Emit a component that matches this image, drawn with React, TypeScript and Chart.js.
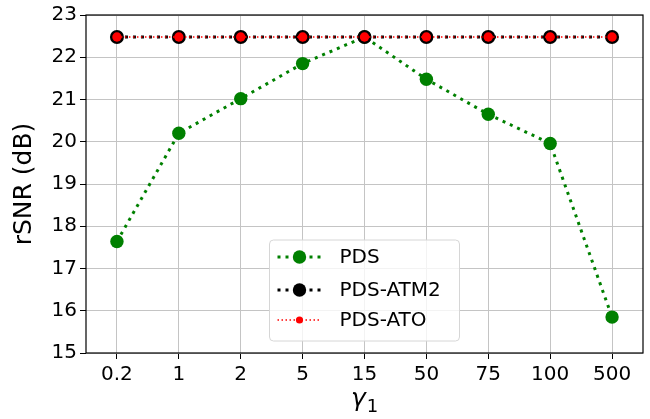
import React, { useEffect, useRef } from "react";
import { Chart, registerables } from "chart.js";

Chart.register(...registerables);

const categories = ["0.2", "1", "2", "5", "15", "50", "75", "100", "500"];
const pdsValues = [17.64, 20.2, 21.02, 21.85, 22.48, 21.48, 20.65, 19.96, 15.85];
const atm2Values = [22.48, 22.48, 22.48, 22.48, 22.48, 22.48, 22.48, 22.48, 22.48];
const atoValues = [22.48, 22.48, 22.48, 22.48, 22.48, 22.48, 22.48, 22.48, 22.48];
const yTicks = [15, 16, 17, 18, 19, 20, 21, 22, 23];
const xTitleMain = "γ";
const xTitleSub = "1";

const FONT = "'DejaVu Sans', sans-serif";

const framePlugin = {
  id: "frame",
  afterDatasetsDraw(chart: any) {
    const { ctx, chartArea } = chart;
    ctx.save();
    ctx.strokeStyle = "#000";
    ctx.lineWidth = 1.2;
    ctx.strokeRect(chartArea.left, chartArea.top, chartArea.right - chartArea.left, chartArea.bottom - chartArea.top);
    ctx.restore();
  },
};

const xTitlePlugin = {
  id: "xTitle",
  afterDraw(chart: any) {
    const { ctx, chartArea } = chart;
    const cx = (chartArea.left + chartArea.right) / 2;
    ctx.save();
    ctx.fillStyle = "#000";
    ctx.textBaseline = "alphabetic";
    ctx.textAlign = "left";
    ctx.font = `italic 25px ${FONT}`;
    const w1 = ctx.measureText(xTitleMain).width;
    ctx.font = `18px ${FONT}`;
    const w2 = ctx.measureText(xTitleSub).width;
    const total = w1 + 1 + w2;
    const x0 = cx - total / 2;
    ctx.font = `italic 25px ${FONT}`;
    ctx.fillText(xTitleMain, x0, chartArea.bottom + 53);
    ctx.font = `18px ${FONT}`;
    ctx.fillText(xTitleSub, x0 + w1 + 1, chartArea.bottom + 59);
    ctx.restore();
  },
};

const legendPlugin = {
  id: "innerLegend",
  afterDraw(chart: any) {
    const { ctx, chartArea } = chart;
    const w = 190;
    const h = 101;
    const cx = (chartArea.left + chartArea.right) / 2;
    const left = cx - w / 2;
    const top = chartArea.bottom - 12 - h;
    ctx.save();
    ctx.beginPath();
    const r = 4;
    ctx.moveTo(left + r, top);
    ctx.lineTo(left + w - r, top);
    ctx.quadraticCurveTo(left + w, top, left + w, top + r);
    ctx.lineTo(left + w, top + h - r);
    ctx.quadraticCurveTo(left + w, top + h, left + w - r, top + h);
    ctx.lineTo(left + r, top + h);
    ctx.quadraticCurveTo(left, top + h, left, top + h - r);
    ctx.lineTo(left, top + r);
    ctx.quadraticCurveTo(left, top, left + r, top);
    ctx.closePath();
    ctx.fillStyle = "rgba(255,255,255,0.8)";
    ctx.fill();
    ctx.strokeStyle = "#d6d6d6";
    ctx.lineWidth = 1;
    ctx.stroke();

    const rows = [17, 50, 80];
    const mRadius = [6.7, 6.7, 3.6];
    chart.data.datasets.forEach((ds: any, i: number) => {
      const y = top + rows[i];
      ctx.save();
      ctx.strokeStyle = ds.borderColor;
      ctx.lineWidth = ds.borderWidth;
      ctx.setLineDash(ds.borderDash);
      ctx.beginPath();
      ctx.moveTo(left + 8, y);
      ctx.lineTo(left + 52, y);
      ctx.stroke();
      ctx.restore();
      ctx.beginPath();
      ctx.arc(left + 30, y, mRadius[i], 0, Math.PI * 2);
      ctx.fillStyle = ds.pointBackgroundColor;
      ctx.fill();
      ctx.fillStyle = "#000";
      ctx.font = `20px ${FONT}`;
      ctx.textBaseline = "middle";
      ctx.textAlign = "left";
      ctx.fillText(ds.label, left + 70, y + 1);
    });
    ctx.restore();
  },
};

export default function App() {
  const ref = useRef<HTMLCanvasElement>(null);
  useEffect(() => {
    document.body.style.margin = "0";
    const chart = new Chart(ref.current!, {
      type: "line",
      data: {
        labels: categories,
        datasets: [
          {
            label: "PDS",
            data: pdsValues,
            borderColor: "#008000",
            backgroundColor: "#008000",
            pointBackgroundColor: "#008000",
            borderWidth: 3,
            borderDash: [3, 5],
            pointRadius: 6.7,
            pointBorderWidth: 0,
            order: 3,
          },
          {
            label: "PDS-ATM2",
            data: atm2Values,
            borderColor: "#000000",
            backgroundColor: "#000000",
            pointBackgroundColor: "#000000",
            borderWidth: 3,
            borderDash: [3, 5],
            pointRadius: 7,
            pointBorderWidth: 0,
            order: 2,
          },
          {
            label: "PDS-ATO",
            data: atoValues,
            borderColor: "#ff0000",
            backgroundColor: "#ff0000",
            pointBackgroundColor: "#ff0000",
            borderWidth: 1.5,
            borderDash: [1.5, 2.5],
            pointRadius: 4.7,
            pointBorderWidth: 0,
            order: 1,
          },
        ],
      },
      options: {
        responsive: false,
        animation: false,
        layout: { padding: { left: 0, right: 6, top: 15, bottom: 0 } },
        plugins: { legend: { display: false }, tooltip: { enabled: false } },
        scales: {
          x: {
            offset: true,
            grid: { color: "#c4c4c4", lineWidth: 1, tickColor: "#000", tickLength: 6, offset: false },
            border: { display: false },
            ticks: { color: "#000", font: { family: FONT, size: 20 }, padding: 4, maxRotation: 0 },
            afterFit(scale: any) {
              scale.height = 66;
            },
          },
          y: {
            min: 15,
            max: 23,
            afterBuildTicks(scale: any) {
              scale.ticks = yTicks.map((v) => ({ value: v }));
            },
            grid: { color: "#c4c4c4", lineWidth: 1, tickColor: "#000", tickLength: 6 },
            border: { display: false },
            ticks: { color: "#000", font: { family: FONT, size: 20 }, padding: 3 },
            title: { display: true, text: "rSNR (dB)", color: "#000", font: { family: FONT, size: 25 }, padding: { top: 9, bottom: 4 } },
            afterFit(scale: any) {
              scale.width = 86;
            },
          },
        },
      },
      plugins: [framePlugin, legendPlugin, xTitlePlugin],
    });
    return () => chart.destroy();
  }, []);
  return (
    <div style={{ width: 650, height: 419 }}>
      <canvas ref={ref} width={650} height={419} style={{ display: "block" }} />
    </div>
  );
}
